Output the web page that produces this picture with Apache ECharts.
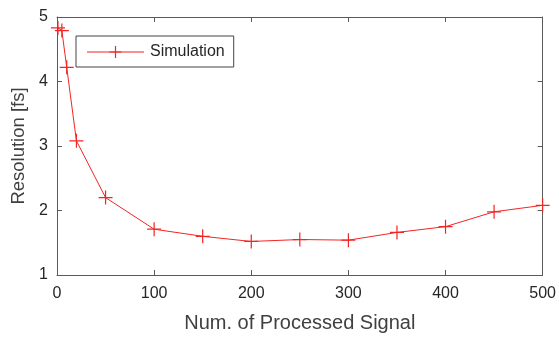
<!DOCTYPE html>
<html>
<head>
<meta charset="utf-8">
<script src="https://cdn.jsdelivr.net/npm/echarts@6/dist/echarts.min.js"></script>
<style>
  html, body { margin: 0; padding: 0; background: #fff; }
  #chart { width: 559px; height: 338px; }
</style>
</head>
<body>
<div id="chart"></div>
<script>
// 数据
const numSignals = [1, 5, 10, 20, 50, 100, 150, 200, 250, 300, 350, 400, 450, 500]
const resolution = [4.83, 4.79, 4.22, 3.08, 2.2, 1.71, 1.6, 1.52, 1.55, 1.54, 1.66, 1.75, 1.98, 2.08]
const xTicks = [0, 100, 200, 300, 400, 500]
const yTicks = [1, 2, 3, 4, 5]

const red = '#f22424'
const axisColor = '#5a5a5a'
const textColor = '#262626'
const font = 'Liberation Sans, Arial, sans-serif'

// + 号标记
const plusMark = 'path://M0,6.4 H14 V7.6 H0 Z M6.4,0 H7.6 V14 H6.4 Z'
// 图例: 线 + 标记
const legendIcon = 'path://M0,5.5 H57 V6.5 H0 Z M22.5,5.3 H34.5 V6.7 H22.5 Z M27.9,0 H29.1 V12 H27.9 Z'

const chart = echarts.init(document.getElementById('chart'))

function mirrorAxis (pos, min, max, interval) {
    return {
        type: 'value',
        position: pos,
        min: min,
        max: max,
        interval: interval,
        axisLine: { show: true, onZero: false, lineStyle: { color: axisColor, width: 1 } },
        axisTick: { show: true, inside: true, length: 5, lineStyle: { color: axisColor } },
        axisLabel: { show: false },
        splitLine: { show: false }
    }
}

chart.setOption({
    animation: false,
    textStyle: { fontFamily: font },
    grid: { left: 57, right: 15, top: 17, bottom: 62, containLabel: false },
    legend: {
        left: 76,
        top: 36,
        orient: 'horizontal',
        padding: [8, 9, 7, 11],
        borderColor: '#444',
        borderWidth: 1,
        itemWidth: 57,
        itemHeight: 12,
        itemGap: 5,
        icon: legendIcon,
        textStyle: { fontSize: 16, color: textColor, fontFamily: font, padding: [0, 0, 0, 1] },
        data: [{ name: 'Simulation', icon: legendIcon, itemStyle: { color: red } }]
    },
    xAxis: [
        {
            type: 'value',
            min: xTicks[0],
            max: xTicks[xTicks.length - 1],
            interval: 100,
            name: 'Num. of Processed Signal',
            nameLocation: 'middle',
            nameGap: 38,
            nameTextStyle: { fontSize: 20, color: '#404040', fontFamily: font },
            axisLine: { show: true, onZero: false, lineStyle: { color: axisColor, width: 1 } },
            axisTick: { show: true, inside: true, length: 5, lineStyle: { color: axisColor } },
            axisLabel: { fontSize: 16, color: textColor, margin: 11, fontFamily: font },
            splitLine: { show: false }
        },
        mirrorAxis('top', 0, 500, 100)
    ],
    yAxis: [
        {
            type: 'value',
            min: yTicks[0],
            max: yTicks[yTicks.length - 1],
            interval: 1,
            name: 'Resolution [fs]',
            nameLocation: 'middle',
            nameGap: 27,
            nameTextStyle: { fontSize: 18.5, color: '#404040', fontFamily: font },
            axisLine: { show: true, onZero: false, lineStyle: { color: axisColor, width: 1 } },
            axisTick: { show: true, inside: true, length: 5, lineStyle: { color: axisColor } },
            axisLabel: { fontSize: 16, color: textColor, margin: 9, fontFamily: font },
            splitLine: { show: false }
        },
        mirrorAxis('right', 1, 5, 1)
    ],
    series: [
        {
            name: 'Simulation',
            type: 'line',
            data: numSignals.map((x, i) => [x, resolution[i]]),
            symbol: plusMark,
            symbolSize: 14,
            showAllSymbol: true,
            lineStyle: { color: red, width: 1 },
            itemStyle: { color: red, borderWidth: 0 },
            z: 3
        }
    ]
})
</script>
</body>
</html>
